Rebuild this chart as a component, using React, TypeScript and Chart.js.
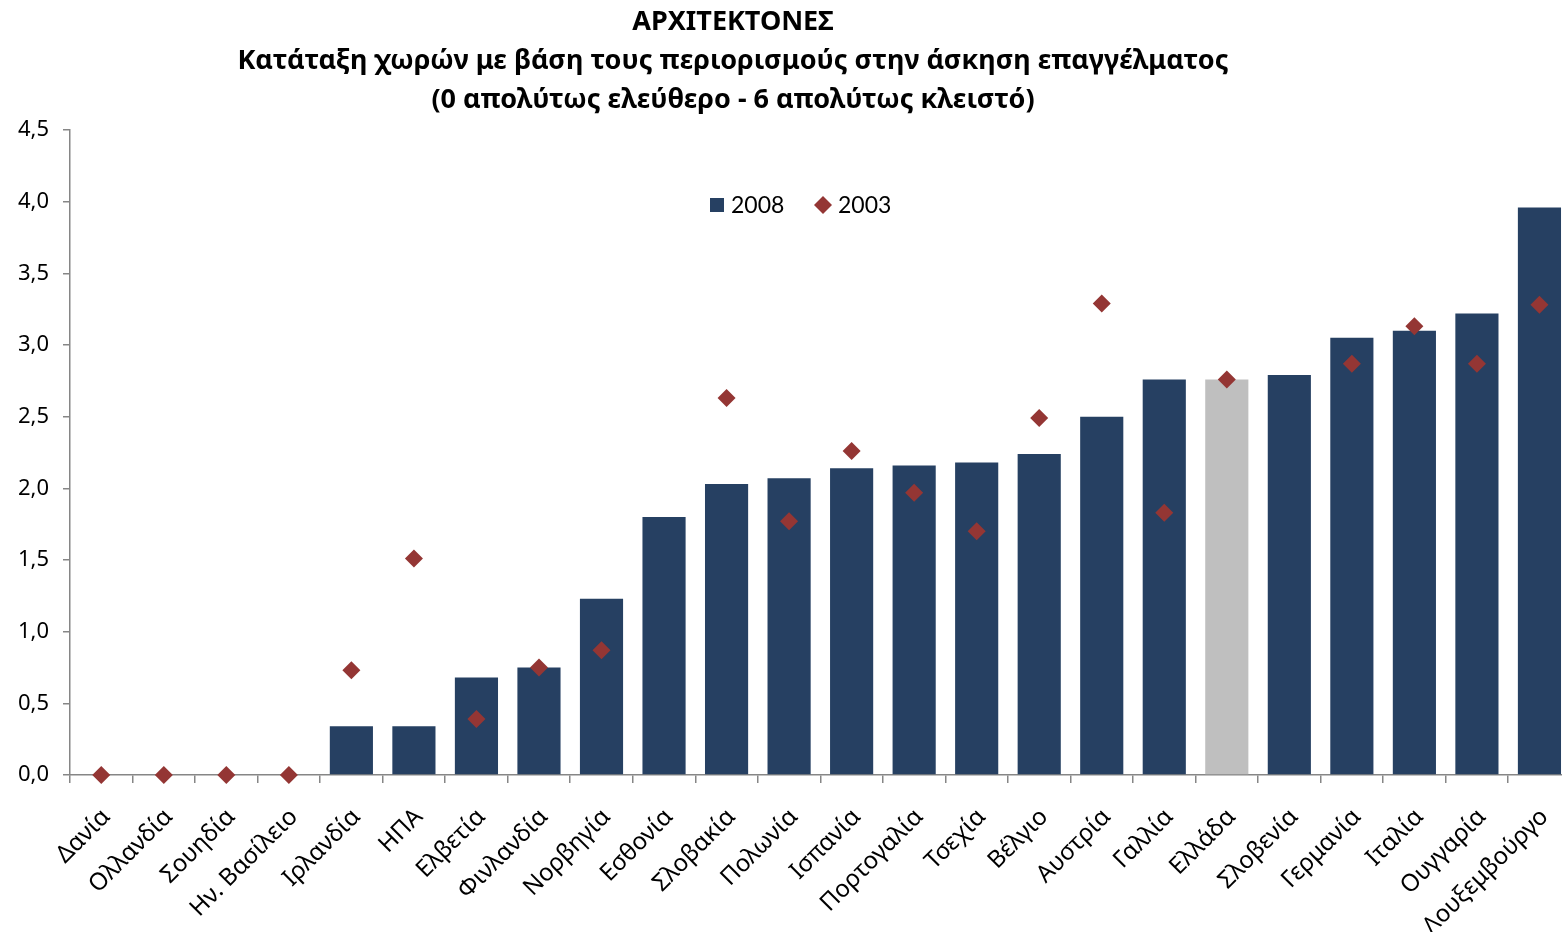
import React, { useEffect, useRef } from "react";
import { Chart, registerables } from "chart.js";

Chart.register(...registerables);

const TITLE_LINES = [
  "ΑΡΧΙΤΕΚΤΟΝΕΣ",
  "Κατάταξη χωρών με βάση τους περιορισμούς στην άσκηση επαγγέλματος",
  "(0 απολύτως ελεύθερο - 6 απολύτως κλειστό)",
];

const countries = [
  "Δανία", "Ολλανδία", "Σουηδία", "Ην. Βασίλειο", "Ιρλανδία", "ΗΠΑ",
  "Ελβετία", "Φινλανδία", "Νορβηγία", "Εσθονία", "Σλοβακία", "Πολωνία",
  "Ισπανία", "Πορτογαλία", "Τσεχία", "Βέλγιο", "Αυστρία", "Γαλλία",
  "Ελλάδα", "Σλοβενία", "Γερμανία", "Ιταλία", "Ουγγαρία", "Λουξεμβούργο",
];

const values2008 = [
  0, 0, 0, 0, 0.34, 0.34,
  0.68, 0.75, 1.23, 1.80, 2.03, 2.07,
  2.14, 2.16, 2.18, 2.24, 2.50, 2.76,
  2.76, 2.79, 3.05, 3.10, 3.22, 3.96,
];

const values2003: (number | null)[] = [
  0, 0, 0, 0, 0.73, 1.51,
  0.39, 0.75, 0.87, null, 2.63, 1.77,
  2.26, 1.97, 1.70, 2.49, 3.29, 1.83,
  2.76, null, 2.87, 3.13, 2.87, 3.28,
];

const seriesLabels = ["2008", "2003"];
const highlightCountry = "Ελλάδα";

const yMin = 0;
const yMax = 4.5;
const yStep = 0.5;

const BAR_COLOR = "#264062";
const HIGHLIGHT_COLOR = "#bfbfbf";
const DIAMOND_COLOR = "#943634";
const AXIS_COLOR = "#868686";
const FONT = "'Noto Sans', 'DejaVu Sans', sans-serif";
const TITLE_FONT = "'Noto Sans', sans-serif";
const LEGEND_FONT = "Lato, 'Noto Sans', sans-serif";

const titlePlugin = {
  id: "customTitle",
  afterDraw(chart: any) {
    const ctx = chart.ctx;
    ctx.save();
    ctx.fillStyle = "#000";
    ctx.textAlign = "center";
    ctx.textBaseline = "middle";
    ctx.font = `bold 27px ${TITLE_FONT}`;
    const cx = 733;
    const ys = [22, 61, 100];
    TITLE_LINES.forEach((t, i) => ctx.fillText(t, cx, ys[i]));
    ctx.restore();
  },
};

const legendPlugin = {
  id: "customLegend",
  afterDraw(chart: any) {
    const ctx = chart.ctx;
    const ds = chart.data.datasets;
    ctx.save();
    ctx.font = `23px ${LEGEND_FONT}`;
    ctx.textBaseline = "middle";
    ctx.textAlign = "left";
    const y = 205;
    ctx.fillStyle = BAR_COLOR;
    ctx.fillRect(710, y - 7, 14, 14);
    ctx.fillStyle = "#000";
    ctx.fillText(ds[1].label, 731, y + 1);
    ctx.fillStyle = DIAMOND_COLOR;
    ctx.beginPath();
    ctx.moveTo(823, y - 9);
    ctx.lineTo(832, y);
    ctx.lineTo(823, y + 9);
    ctx.lineTo(814, y);
    ctx.closePath();
    ctx.fill();
    ctx.fillStyle = "#000";
    ctx.fillText(ds[0].label, 838, y + 1);
    ctx.restore();
  },
};

export default function App() {
  const canvasRef = useRef<HTMLCanvasElement | null>(null);

  useEffect(() => {
    const canvas = canvasRef.current;
    if (!canvas) return;
    const chart = new Chart(canvas, {
      data: {
        labels: countries,
        datasets: [
          {
            type: "line",
            label: seriesLabels[1],
            data: values2003,
            showLine: false,
            pointStyle: "rectRot",
            pointRadius: 9,
            pointHoverRadius: 9,
            pointBackgroundColor: DIAMOND_COLOR,
            pointBorderColor: DIAMOND_COLOR,
            pointBorderWidth: 0,
            backgroundColor: DIAMOND_COLOR,
            borderColor: DIAMOND_COLOR,
            clip: false as any,
            order: 1,
          } as any,
          {
            type: "bar",
            label: seriesLabels[0],
            data: values2008,
            backgroundColor: countries.map((c) =>
              c === highlightCountry ? HIGHLIGHT_COLOR : BAR_COLOR
            ),
            borderWidth: 0,
            barPercentage: 0.69,
            categoryPercentage: 1,
            order: 2,
          } as any,
        ],
      },
      options: {
        responsive: false,
        animation: false,
        layout: { padding: { top: 130, right: 3, left: 0, bottom: 0 } },
        plugins: {
          legend: { display: false },
          title: { display: false },
          tooltip: { enabled: false },
        },
        scales: {
          x: {
            type: "category",
            offset: true,
            grid: {
              offset: true,
              display: true,
              drawOnChartArea: false,
              drawTicks: true,
              tickLength: 8,
              color: AXIS_COLOR,
              lineWidth: 1.5,
            },
            border: { display: true, color: AXIS_COLOR, width: 1.5 },
            ticks: {
              autoSkip: false,
              minRotation: 45,
              maxRotation: 45,
              color: "#000",
              padding: 20,
              labelOffset: 5,
              font: { family: FONT, size: 24 },
            },
            afterFit: (s: any) => {
              s.height = 157;
            },
          },
          y: {
            type: "linear",
            min: yMin,
            max: yMax,
            grid: {
              display: true,
              drawOnChartArea: false,
              drawTicks: true,
              tickLength: 7,
              color: AXIS_COLOR,
              lineWidth: 1.5,
            },
            border: { display: true, color: AXIS_COLOR, width: 1.5 },
            ticks: {
              stepSize: yStep,
              color: "#000",
              padding: 14,
              font: { family: FONT, size: 22 },
              callback: (v: any) => Number(v).toFixed(1).replace(".", ","),
            },
            afterFit: (s: any) => {
              s.width = 70;
            },
          },
        },
      },
      plugins: [titlePlugin, legendPlugin],
    } as any);
    return () => chart.destroy();
  }, []);

  return (
    <div
      style={{
        position: "fixed",
        left: 0,
        top: 0,
        width: 1562,
        height: 932,
        overflow: "hidden",
        background: "#fff",
      }}
    >
      <canvas
        ref={canvasRef}
        width={1580}
        height={932}
        style={{ display: "block", width: 1580, height: 932 }}
      />
    </div>
  );
}
